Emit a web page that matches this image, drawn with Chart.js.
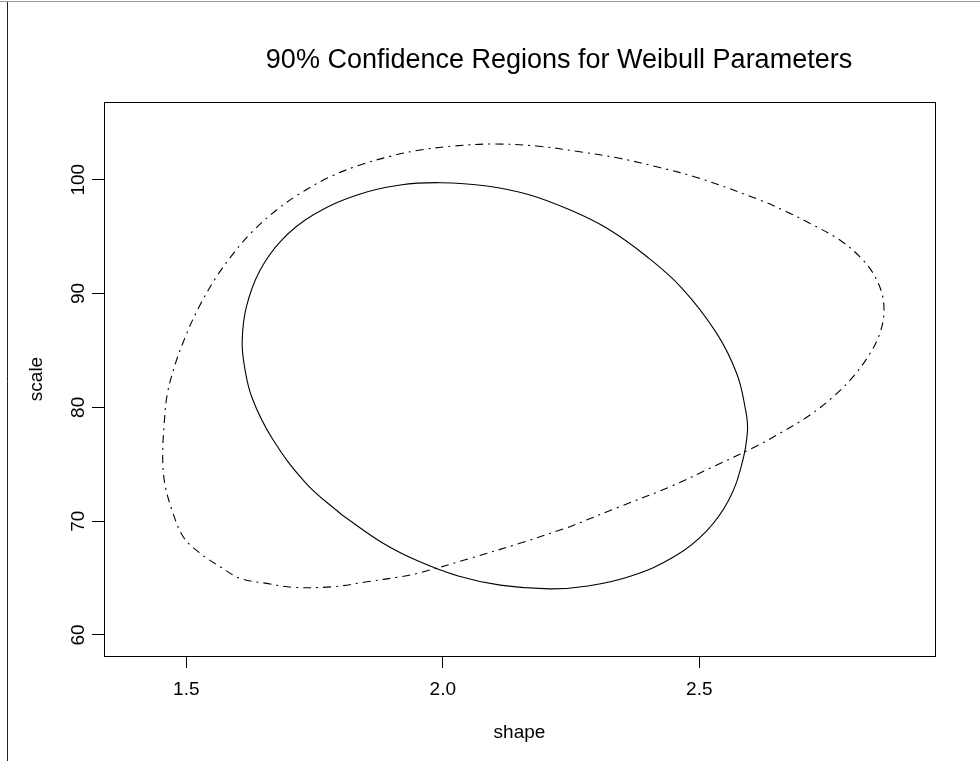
<!DOCTYPE html>
<html><head><meta charset="utf-8">
<script src="https://cdn.jsdelivr.net/npm/chart.js@4"></script>
<style>html,body{margin:0;padding:0;background:#fff;}canvas{display:block;}</style>
</head><body>
<canvas id="c" width="980" height="770"></canvas>
<script>
const chartTitle = "90% Confidence Regions for Weibull Parameters";
const xAxisTitle = "shape";
const yAxisTitle = "scale";
const xTicks = [1.5, 2.0, 2.5];
const xTickLabels = ["1.5", "2.0", "2.5"];
const yTicks = [60, 70, 80, 90, 100];
const yTickLabels = ["60", "70", "80", "90", "100"];

// solid curve (ellipse), starting on the lower-left flank
const ellipseShape = [1.805,1.733,1.667,1.628,1.613,1.609,1.617,1.643,1.686,1.747,1.833,1.917,1.995,2.086,2.170,2.248,2.320,2.395,2.466,2.534,2.573,2.589,2.594,2.583,2.557,2.514,2.453,2.367,2.283,2.207,2.112,2.030,1.952,1.882,1.805];
const ellipseScale = [70.49,73.35,77.30,80.86,83.72,85.91,88.81,91.98,94.70,96.90,98.66,99.53,99.74,99.45,98.66,97.34,95.73,93.34,90.48,86.50,82.97,80.07,78.00,75.02,71.81,69.13,66.93,65.18,64.30,64.05,64.38,65.18,66.49,68.10,70.49];

// dash-dot curve, starting on the straight lower flank
const regionShape = [2.248,2.150,2.053,1.956,1.917,1.852,1.787,1.709,1.657,1.605,1.566,1.527,1.494,1.472,1.458,1.454,1.457,1.463,1.479,1.501,1.525,1.559,1.592,1.627,1.676,1.722,1.774,1.832,1.904,1.956,2.020,2.098,2.183,2.267,2.345,2.423,2.501,2.618,2.670,2.722,2.774,2.813,2.839,2.856,2.860,2.852,2.833,2.800,2.761,2.713,2.657,2.612,2.527,2.443,2.345,2.248];
const regionScale = [69.51,68.05,66.73,65.47,65.11,64.67,64.24,64.18,64.53,64.97,65.99,67.17,68.63,70.98,73.32,75.66,78.59,81.17,83.87,86.50,88.84,91.48,93.53,95.36,97.34,98.80,100.12,101.20,102.13,102.61,102.96,103.14,102.96,102.46,101.88,101.07,100.12,98.22,97.19,96.02,94.70,93.23,91.77,90.02,88.26,86.50,84.75,82.69,80.93,79.24,77.72,76.60,74.78,73.02,71.27,69.51];

const toPoints = (xs, ys) => xs.map((x, i) => ({x: x, y: ys[i]}));
const FONT = "'Liberation Sans', Arial, Helvetica, sans-serif";

const framePlugin = {
  id: 'frame',
  afterLayout(chart) {
    // centre the main title like the reference
    const t = chart.titleBlock;
    if (t) {
      const w = t.right - t.left;
      const c = 559;
      t.left = c - w / 2;
      t.right = c + w / 2;
    }
  },
  beforeDraw(chart) {
    const ctx = chart.ctx;
    ctx.save();
    ctx.fillStyle = '#fff';
    ctx.fillRect(0, 0, chart.width, chart.height);
    ctx.restore();
  },
  afterDraw(chart) {
    const {ctx, chartArea: a} = chart;
    ctx.save();
    ctx.strokeStyle = '#000';
    ctx.lineWidth = 1;
    ctx.strokeRect(Math.round(a.left) + 0.5, Math.round(a.top) + 0.5, Math.round(a.right - a.left), Math.round(a.bottom - a.top));
    ctx.strokeStyle = '#999';
    ctx.beginPath(); ctx.moveTo(0, 1.5); ctx.lineTo(chart.width, 1.5); ctx.stroke();
    ctx.strokeStyle = '#222';
    ctx.beginPath(); ctx.moveTo(7.5, 2); ctx.lineTo(7.5, 761); ctx.stroke();
    ctx.restore();
  }
};

new Chart(document.getElementById('c'), {
  type: 'scatter',
  data: {
    datasets: [
      {label: 'ellipse', data: toPoints(ellipseShape, ellipseScale), showLine: true, borderColor: '#000', borderWidth: 1.1, pointRadius: 0, fill: false, tension: 0.4},
      {label: 'region', data: toPoints(regionShape, regionScale), showLine: true, borderColor: '#000', borderWidth: 1.1, borderDash: [2, 5, 8, 5], pointRadius: 0, fill: false, tension: 0.35}
    ]
  },
  options: {
    responsive: false, animation: false, devicePixelRatio: 1,
    layout: {padding: {left: 0, top: 0, right: 45, bottom: 0}},
    plugins: {
      legend: {display: false}, tooltip: {enabled: false},
      title: {display: true, text: chartTitle, color: '#000', font: {family: FONT, size: 27, weight: 'normal', lineHeight: 1.2}, padding: {top: 44, bottom: 25.6}}
    },
    scales: {
      x: {
        type: 'linear', position: 'bottom', min: 1.3396, max: 2.9595,
        afterBuildTicks: s => { s.ticks = xTicks.map(v => ({value: v})); },
        afterFit: s => { s.height = 114; },
        ticks: {callback: v => xTickLabels[xTicks.indexOf(v)], color: '#000', font: {family: FONT, size: 19}, padding: 10, maxRotation: 0, autoSkip: false},
        grid: {drawOnChartArea: false, drawTicks: true, tickLength: 12, color: '#000', tickColor: '#000', tickWidth: 1},
        border: {display: false},
        title: {display: true, text: xAxisTitle, color: '#000', font: {family: FONT, size: 19, lineHeight: 1.2}, padding: {top: 0, bottom: 26}}
      },
      y: {
        type: 'linear', position: 'left', min: 58.15, max: 106.83,
        afterBuildTicks: s => { s.ticks = yTicks.map(v => ({value: v})); },
        afterFit: s => { s.width = 104; },
        ticks: {callback: v => yTickLabels[yTicks.indexOf(v)], color: '#000', font: {family: FONT, size: 19}, padding: -3, minRotation: 90, maxRotation: 90, crossAlign: 'center', autoSkip: false},
        grid: {drawOnChartArea: false, drawTicks: true, tickLength: 12, color: '#000', tickColor: '#000', tickWidth: 1},
        border: {display: false},
        title: {display: true, text: yAxisTitle, color: '#000', font: {family: FONT, size: 19, lineHeight: 1.2}, padding: {top: 25, bottom: 0}}
      }
    }
  },
  plugins: [framePlugin]
});
</script>
</body></html>
